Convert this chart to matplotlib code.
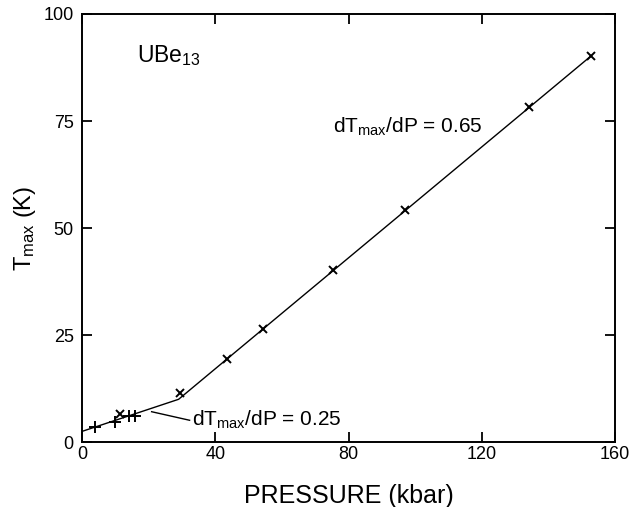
import numpy as np
import matplotlib
matplotlib.use('Agg')
import matplotlib.pyplot as plt

plt.rcParams['font.family'] = ['Liberation Sans', 'DejaVu Sans']
plt.rcParams['mathtext.fontset'] = 'custom'
plt.rcParams['mathtext.rm'] = 'Liberation Sans'
plt.rcParams['mathtext.it'] = 'Liberation Sans'

# measured points (kbar, K)
p_plus = [3.9, 9.9, 14.2, 15.9]
t_plus = [3.6, 4.7, 6.1, 6.2]
p_cross = [11.4, 29.4, 43.4, 54.2, 75.4, 97.0, 134.1, 152.8]
t_cross = [6.5, 11.4, 19.3, 26.4, 40.2, 54.2, 78.3, 90.2]

# piecewise linear fit
p_fit = [0.0, 29.0, 152.8]
t_fit = [2.5, 10.0, 90.2]

xticks = [0, 40, 80, 120, 160]
yticks = [0, 25, 50, 75, 100]

fig = plt.figure(figsize=(6.42, 5.07), dpi=100)
ax = fig.add_axes([0.1277, 0.128, 0.8303, 0.8444])

ax.plot(p_fit, t_fit, color='black', lw=1.0)
ax.plot(p_plus, t_plus, ls='none', marker='+', ms=8, mew=1.4, color='black')
ax.plot(p_cross, t_cross, ls='none', marker='x', ms=5.5, mew=1.4, color='black')

ax.set_xlim(0, 160)
ax.set_ylim(0, 100)
ax.set_xticks(xticks)
ax.set_yticks(yticks)
ax.tick_params(direction='in', length=7, width=1.3, top=True, right=True,
               labelsize=13)
ax.tick_params(axis='x', pad=3)
ax.tick_params(axis='y', pad=6)
for s in ax.spines.values():
    s.set_linewidth(1.4)

ax.set_xlabel('PRESSURE (kbar)', fontsize=18, labelpad=15)
ax.set_ylabel(r'T$_{\rm max}$ (K)', fontsize=17, labelpad=4)

ax.text(16.5, 90.4, r'UBe$_{\rm 13}$', fontsize=16.5, va='center', ha='left')
ax.text(75.4, 73.6, r'dT$_{\rm max}$/dP = 0.65', fontsize=15, va='center', ha='left')
ax.text(33.0, 5.1, r'dT$_{\rm max}$/dP = 0.25', fontsize=15, va='center', ha='left')
ax.plot([20.9, 32.3], [7.1, 5.1], color='black', lw=1.0)

fig.savefig('out.png', dpi=100)
